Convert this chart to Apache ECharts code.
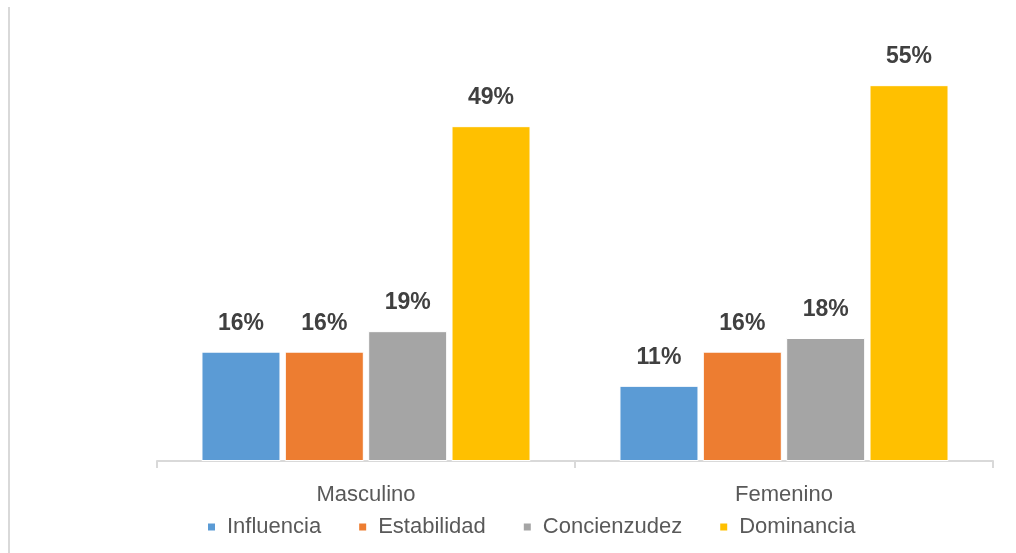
<!DOCTYPE html>
<html>
<head>
    <meta charset="utf-8">
    <title>perfil</title>
    <script src="https://cdn.jsdelivr.net/npm/echarts@6/dist/echarts.min.js"></script>
    <style>
        html, body { margin: 0; padding: 0; background: #fff; }
    </style>
</head>
<body>
    <div id="main" style="width: 1016px; height: 553px;"></div>
    <script type="text/javascript">
        var categories = ['Masculino', 'Femenino'];
        var seriesNames = ['Influencia', 'Estabilidad', 'Concienzudez', 'Dominancia'];
        var influencia = [16, 11];
        var estabilidad = [16, 16];
        var concienzudez = [19, 18];
        var dominancia = [49, 55];
        var colors = ['#5b9bd5', '#ed7d31', '#a5a5a5', '#ffc000'];

        var myChart = echarts.init(document.getElementById('main'));
        var font = 'Liberation Sans';

        var values = [influencia, estabilidad, concienzudez, dominancia];
        var series = seriesNames.map(function (name, i) {
            return {
                name: name,
                type: 'bar',
                data: values[i],
                barWidth: 79,
                barGap: '5.5%',
                itemStyle: { color: colors[i], borderColor: '#fff', borderWidth: 1 },
                label: {
                    show: true,
                    position: 'top',
                    distance: 17,
                    formatter: '{c}%',
                    color: '#404040',
                    fontWeight: 'bold',
                    fontSize: 23,
                    fontFamily: font
                }
            };
        });

        option = {
            backgroundColor: '#fff',
            animation: false,
            color: colors,
            grid: { left: 157, right: 23, top: 51, bottom: 92 },
            legend: {
                bottom: 10,
                left: 201,
                icon: 'rect',
                itemWidth: 9,
                itemHeight: 9,
                itemGap: 36,
                textStyle: { color: '#595959', fontSize: 22, fontFamily: font, padding: [0, 0, 0, 6] },
                data: seriesNames
            },
            xAxis: {
                type: 'category',
                data: categories,
                axisLine: { lineStyle: { color: '#d9d9d9', width: 2 } },
                axisTick: { show: true, length: 7, lineStyle: { color: '#d9d9d9', width: 2 } },
                axisLabel: { color: '#595959', fontSize: 22, fontFamily: font, margin: 23 }
            },
            yAxis: {
                type: 'value',
                min: 0,
                max: 60,
                show: false
            },
            graphic: [{
                type: 'line',
                shape: { x1: 9, y1: 7, x2: 9, y2: 553 },
                style: { stroke: '#d9d9d9', lineWidth: 2 }
            }],
            series: series
        };

        myChart.setOption(option);
    </script>
</body>
</html>
